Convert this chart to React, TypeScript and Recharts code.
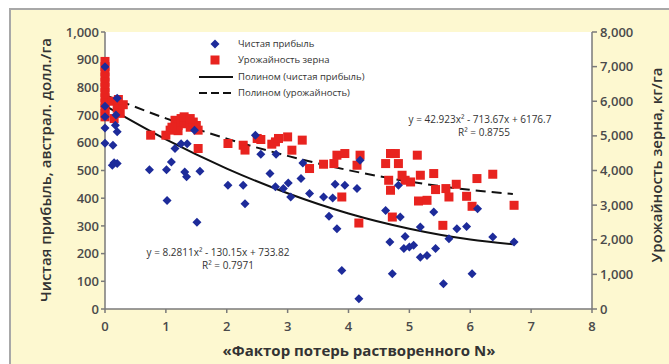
import React from "react";
import {
  ComposedChart,
  Scatter,
  Line,
  XAxis,
  YAxis,
  CartesianGrid,
} from "recharts";

// Чистая прибыль (левая ось), австрал. долл./га
const PROFIT_X = [
  0, 0, 0, 0, 0, 0.2, 0.18, 0.17, 0.2, 0.13, 0.12, 0.2, 0.15, 0.73, 1.01, 1.02,
  1.09, 1.31, 1.34, 1.56, 1.51, 1.15, 1.25, 1.35, 1.47, 2.02, 2.27, 2.3, 2.47,
  2.56, 2.81, 2.71, 2.8, 2.93, 3.01, 3.05, 3.22, 3.25, 3.36, 3.59, 3.74, 3.78,
  3.94, 4.14, 4.19, 3.68, 3.81, 3.89, 4.17, 4.61, 4.68, 4.72, 4.82, 4.85, 4.93,
  4.91, 5.0, 5.07, 5.18, 5.18, 5.29, 5.4, 5.43, 5.56, 5.65, 5.78, 5.94, 6.03,
  6.12, 6.37, 6.72,
];
const PROFIT_Y = [
  875, 732, 694, 653, 598, 761, 700, 663, 640, 591, 519, 525, 528, 503, 503, 392,
  531, 495, 477, 497, 313, 579, 597, 597, 645, 447, 447, 380, 627,
  559, 559, 489, 441, 435, 455, 404, 471, 527, 417, 404, 401, 450,
  447, 435, 537, 335, 290, 139, 37, 356, 242, 127, 447, 332, 262,
  218, 224, 230, 296, 187, 193, 350, 218, 91, 254, 290, 298, 127,
  362, 260, 242,
];

// Урожайность зерна (правая ось), кг/га
const YIELD_X = [
  0, 0, 0, 0, 0, 0, 0, 0, 0, 0, 0, 0, 0.12, 0.2, 0.25, 0.15, 0.3, 0.22, 0.75,
  1.0, 1.07, 1.15, 1.2, 1.25, 1.3, 1.35, 1.4, 1.45, 1.5, 1.2, 1.1, 1.3, 1.4,
  1.53, 1.53, 2.02, 2.27, 2.3, 2.5, 2.56, 2.74, 2.8, 2.85, 3.0, 3.07, 3.24,
  3.36, 3.59, 3.76, 3.81, 3.94, 3.89, 4.14, 4.19, 4.17, 4.61, 4.69, 4.66, 4.69,
  4.72, 4.77, 4.82, 5.13, 4.88, 4.93, 5.02, 5.18, 5.4, 5.15, 5.29, 5.43, 5.6,
  5.65, 5.77, 5.94, 6.03, 6.11, 6.37, 6.72, 5.55,
];
const YIELD_Y = [
  7150, 7000, 6850, 6700, 6550, 6400, 6250, 6100, 5950, 5800, 5650, 5550, 6000,
  5800, 5650, 5500, 5900, 6050, 5020,
  5020, 5165, 5450, 5300, 5500, 5350, 5450, 5250, 5400, 5300, 5150, 5250, 5550,
  5500, 5165, 4635, 4780, 4730, 4590, 4925, 4895, 4760, 4826, 4925, 4970, 4587,
  4877, 4057, 4181, 4200, 4442, 4490, 3235, 4152, 4442, 2483, 4200, 4490, 3718,
  3429, 2656, 4490, 4200, 4442, 3863, 3718, 3669, 3863, 3912, 3119, 3139, 3449,
  3478, 3235, 3602, 3255, 2966, 3767, 3892, 2995, 2416,
];

// Полиномиальные линии тренда
const TREND_X = [0, 1, 2, 3, 4, 5, 6, 6.7];
const TREND_PROFIT = [734, 612, 507, 418, 345, 290, 251, 234];
const TREND_YIELD = [6177, 5506, 4920, 4422, 4009, 3681, 3440, 3322];

const X_TICKS = [0, 1, 2, 3, 4, 5, 6, 7, 8];
const LEFT_TICKS = [0, 100, 200, 300, 400, 500, 600, 700, 800, 900, 1000];
const RIGHT_TICKS = [0, 1000, 2000, 3000, 4000, 5000, 6000, 7000, 8000];

const profitData = PROFIT_X.map((x, i) => ({ x, y: PROFIT_Y[i] }));
const yieldData = YIELD_X.map((x, i) => ({ x, y: YIELD_Y[i] }));
const profitTrend = TREND_X.map((x, i) => ({ x, y: TREND_PROFIT[i] }));
const yieldTrend = TREND_X.map((x, i) => ({ x, y: TREND_YIELD[i] }));

const BLUE = "#1d2b9a";
const RED = "#e8231f";
const BEIGE = "#fdf8d0";
const FONT = "'Open Sans', sans-serif";
const tickStyle = { fontSize: 13, fill: "#4a4a4a", fontWeight: 600, fontFamily: FONT };
const fmt = (v: number) => v.toLocaleString("en-US");

function Diamond(props: any) {
  const { cx, cy } = props;
  const r = 4.5;
  return (
    <polygon
      points={`${cx},${cy - r} ${cx + r},${cy} ${cx},${cy + r} ${cx - r},${cy}`}
      fill={BLUE}
    />
  );
}

function Square(props: any) {
  const { cx, cy } = props;
  return <rect x={cx - 4.5} y={cy - 4.5} width={9} height={9} fill={RED} />;
}

const textBase: React.CSSProperties = {
  position: "absolute",
  whiteSpace: "nowrap",
  fontFamily: FONT,
  color: "#333",
};

export default function App() {
  return (
    <div style={{ position: "absolute", left: 0, top: 0, width: 669, height: 364, background: "#fff", overflow: "hidden" }}>
      {/* рамка */}
      <div
        style={{
          position: "absolute",
          left: 9,
          top: 8,
          width: 660,
          height: 356,
          background: BEIGE,
          borderTop: "2px solid #a8a8a8",
          borderLeft: "2px solid #a8a8a8",
        }}
      />
      <div style={{ position: "absolute", left: 0, top: 0 }}>
        <ComposedChart width={669} height={364} margin={{ top: 32, right: 0, left: 0, bottom: 0 }}>
          <CartesianGrid yAxisId="left" horizontal={false} vertical={false} fill="#fff" />
          <XAxis
            dataKey="x"
            type="number"
            domain={[0, 8]}
            ticks={X_TICKS}
            height={55}
            tick={tickStyle}
            tickSize={4}
            tickMargin={9}
            stroke="#7a7a7a"
            strokeWidth={1.5}
          />
          <YAxis
            yAxisId="left"
            dataKey="y"
            type="number"
            domain={[0, 1000]}
            ticks={LEFT_TICKS}
            tickFormatter={fmt}
            width={105}
            tick={tickStyle}
            tickSize={4}
            tickMargin={2}
            stroke="#7a7a7a"
            strokeWidth={1.5}
          />
          <YAxis
            yAxisId="right"
            orientation="right"
            dataKey="y"
            type="number"
            domain={[0, 8000]}
            ticks={RIGHT_TICKS}
            tickFormatter={fmt}
            width={77}
            tick={tickStyle}
            tickSize={5}
            tickMargin={3}
            stroke="#7a7a7a"
            strokeWidth={1.5}
          />
          <Scatter yAxisId="right" data={yieldData} dataKey="y" shape={<Square />} isAnimationActive={false} />
          <Scatter yAxisId="left" data={profitData} dataKey="y" shape={<Diamond />} isAnimationActive={false} />
          <Line
            yAxisId="left"
            data={profitTrend}
            dataKey="y"
            type="monotone"
            stroke="#111"
            strokeWidth={2}
            dot={false}
            isAnimationActive={false}
          />
          <Line
            yAxisId="right"
            data={yieldTrend}
            dataKey="y"
            type="monotone"
            stroke="#111"
            strokeWidth={2}
            strokeDasharray="10 6"
            dot={false}
            isAnimationActive={false}
          />
        </ComposedChart>
      </div>

      {/* подписи осей */}
      <div
        style={{
          ...textBase,
          left: 45,
          top: 170,
          fontSize: 15,
          fontWeight: 600,
          transform: "translate(-50%, -50%) rotate(-90deg)",
        }}
      >
        Чистая прибыль, австрал. долл./га
      </div>
      <div
        style={{
          ...textBase,
          left: 656,
          top: 165,
          fontSize: 15,
          fontWeight: 600,
          transform: "translate(-50%, -50%) rotate(-90deg)",
        }}
      >
        Урожайность зерна, кг/га
      </div>
      <div style={{ ...textBase, left: 359, top: 350, fontSize: 15, fontWeight: 700, transform: "translate(-50%, -50%)" }}>
        «Фактор потерь растворенного N»
      </div>

      {/* легенда */}
      <div style={{ ...textBase, left: 198, top: 36, fontSize: 9.5, lineHeight: "16.3px" }}>
        <div style={{ display: "flex", alignItems: "center" }}>
          <svg width={36} height={12}>
            <polygon points="17,1.5 21.5,6 17,10.5 12.5,6" fill={BLUE} />
          </svg>
          <span style={{ marginLeft: 4 }}>Чистая прибыль</span>
        </div>
        <div style={{ display: "flex", alignItems: "center" }}>
          <svg width={36} height={12}>
            <rect x={12.5} y={1.5} width={9} height={9} fill={RED} />
          </svg>
          <span style={{ marginLeft: 4 }}>Урожайность зерна</span>
        </div>
        <div style={{ display: "flex", alignItems: "center" }}>
          <svg width={36} height={12}>
            <line x1={1} y1={6} x2={35} y2={6} stroke="#111" strokeWidth={2} />
          </svg>
          <span style={{ marginLeft: 4 }}>Полином (чистая прибыль)</span>
        </div>
        <div style={{ display: "flex", alignItems: "center" }}>
          <svg width={36} height={12}>
            <line x1={1} y1={6} x2={35} y2={6} stroke="#111" strokeWidth={2} strokeDasharray="8 4" />
          </svg>
          <span style={{ marginLeft: 4 }}>Полином (урожайность)</span>
        </div>
      </div>

      {/* уравнения */}
      <div style={{ ...textBase, left: 480, top: 119, fontSize: 10, transform: "translate(-50%, -50%)" }}>
        y = 42.923x² - 713.67x + 6176.7
      </div>
      <div style={{ ...textBase, left: 484, top: 132, fontSize: 10, transform: "translate(-50%, -50%)" }}>
        R² = 0.8755
      </div>
      <div style={{ ...textBase, left: 218, top: 252, fontSize: 10, transform: "translate(-50%, -50%)" }}>
        y = 8.2811x² - 130.15x + 733.82
      </div>
      <div style={{ ...textBase, left: 228, top: 265, fontSize: 10, transform: "translate(-50%, -50%)" }}>
        R² = 0.7971
      </div>
    </div>
  );
}
